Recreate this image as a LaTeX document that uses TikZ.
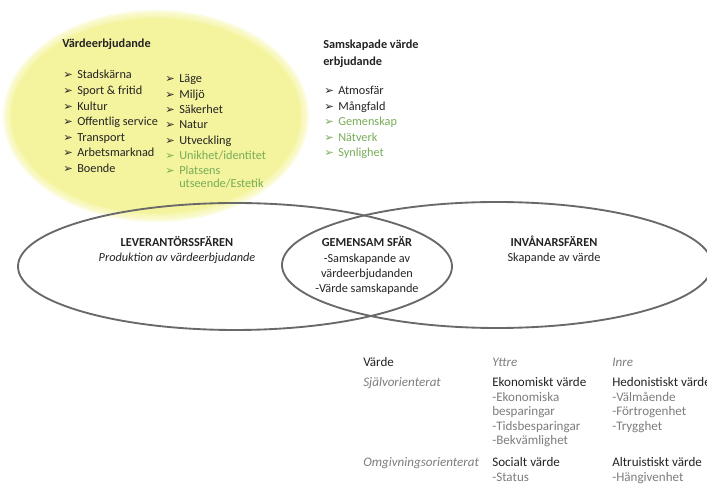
\documentclass[tikz,border=0pt]{standalone}
\usepackage{fontspec}
\setmainfont{Carlito}
\newfontfamily\symfont{DejaVu Sans}
\definecolor{vyellow}{RGB}{245,244,158}
\definecolor{vgreen}{RGB}{120,172,88}
\definecolor{vline}{RGB}{105,105,105}
\definecolor{vdark}{RGB}{35,35,35}
\definecolor{vgray}{RGB}{125,125,125}
\newcommand{\pil}{\makebox[10.5pt][l]{\symfont\fontsize{8.5}{8.5}\selectfont ➢}}
\tikzset{
 txt/.style={inner sep=0pt,anchor=base west,text=vdark,font=\fontsize{9.2}{11}\selectfont},
 head/.style={txt,font=\fontsize{9.2}{11}\selectfont\bfseries},
 mid/.style={txt,anchor=base},
 midb/.style={head,anchor=base},
 midi/.style={mid,font=\fontsize{9.2}{11}\selectfont\itshape},
 tab/.style={txt,font=\fontsize{9.8}{11}\selectfont},
 lbl/.style={tab,text=vgray,font=\fontsize{9.8}{11}\selectfont\itshape},
 sub/.style={tab,text=vgray},
 sfar/.style={draw=vline,line width=1.4pt}
}
\begin{document}
\begin{tikzpicture}[x=0.75pt,y=-0.75pt]
\useasboundingbox (0,0) rectangle (707,498);
\foreach \k in {8,6,4,2}
 \fill[vyellow,opacity=0.3](156,116)ellipse[x radius=145+\k,y radius=98+\k];
\fill[vyellow](156,116)ellipse[x radius=145,y radius=98];
\draw[sfar](235,266.5)ellipse[x radius=217,y radius=63.5];
\draw[sfar](497,265)ellipse[x radius=215,y radius=63];

\node[head](vhead) at (62,48) {Värdeerbjudande};
\foreach \t [count=\i from 0] in {Stadskärna,Sport \& fritid,Kultur,Offentlig service,Transport,Arbetsmarknad,Boende}
 \node[txt](vl\i) at (63,{79+15.6*\i}) {\pil\t};
\foreach \t [count=\i from 0] in {Läge,Miljö,Säkerhet,Natur,Utveckling}
 \node[txt](vr\i) at (165,{83+15.3*\i}) {\pil\t};
\node[txt,text=vgreen](vr5) at (165,159.5) {\pil Unikhet/identitet};
\node[txt,text=vgreen](vr6) at (165,175) {\pil Platsens};
\node[txt,text=vgreen](vr7) at (179,187.5) {utseende/Estetik};

\node[head](shead) at (323,49) {Samskapade värde};
\node[head](shead2) at (323,66) {erbjudande};
\foreach \t [count=\i from 0] in {Atmosfär,Mångfald}
 \node[txt](sl\i) at (324,{95+15.5*\i}) {\pil\t};
\foreach \t [count=\i from 2] in {Gemenskap,Nätverk,Synlighet}
 \node[txt,text=vgreen](sl\i) at (324,{95+15.5*\i}) {\pil\t};

\node[midb](lev) at (177,247) {LEVERANTÖRSSFÄREN};
\node[midi](levsub) at (177,262) {Produktion av värdeerbjudande};
\node[midb](gem) at (367,247) {GEMENSAM SFÄR};
\foreach \t [count=\i] in {-Samskapande av,värdeerbjudanden,-Värde samskapande}
 \node[mid](gem\i) at (367,{247+15.3*\i}) {\t};
\node[midb](inv) at (554,247) {INVÅNARSFÄREN};
\node[mid](invsub) at (554,261.5) {Skapande av värde};

\node[tab](vcol) at (363,367) {Värde};
\node[lbl](ytt) at (492,367) {Yttre};
\node[lbl](inr) at (612,367) {Inre};
\node[lbl](sjalv) at (363,387) {Självorienterat};
\node[tab](ekon) at (492,387) {Ekonomiskt värde};
\foreach \t [count=\i] in {-Ekonomiska,besparingar,-Tidsbesparingar,-Bekvämlighet}
 \node[sub](ekon\i) at (492,{387+14.5*\i}) {\t};
\node[tab](hed) at (612,387) {Hedonistiskt värde};
\foreach \t [count=\i] in {-Välmående,-Förtrogenhet,-Trygghet}
 \node[sub](hed\i) at (612,{387+14.5*\i}) {\t};
\node[lbl](omg) at (363,467) {Omgivningsorienterat};
\node[tab](soc) at (492,467) {Socialt värde};
\node[sub](soc1) at (492,482) {-Status};
\node[tab](alt) at (612,467) {Altruistiskt värde};
\node[sub](alt1) at (612,482) {-Hängivenhet};
\end{tikzpicture}
\end{document}
